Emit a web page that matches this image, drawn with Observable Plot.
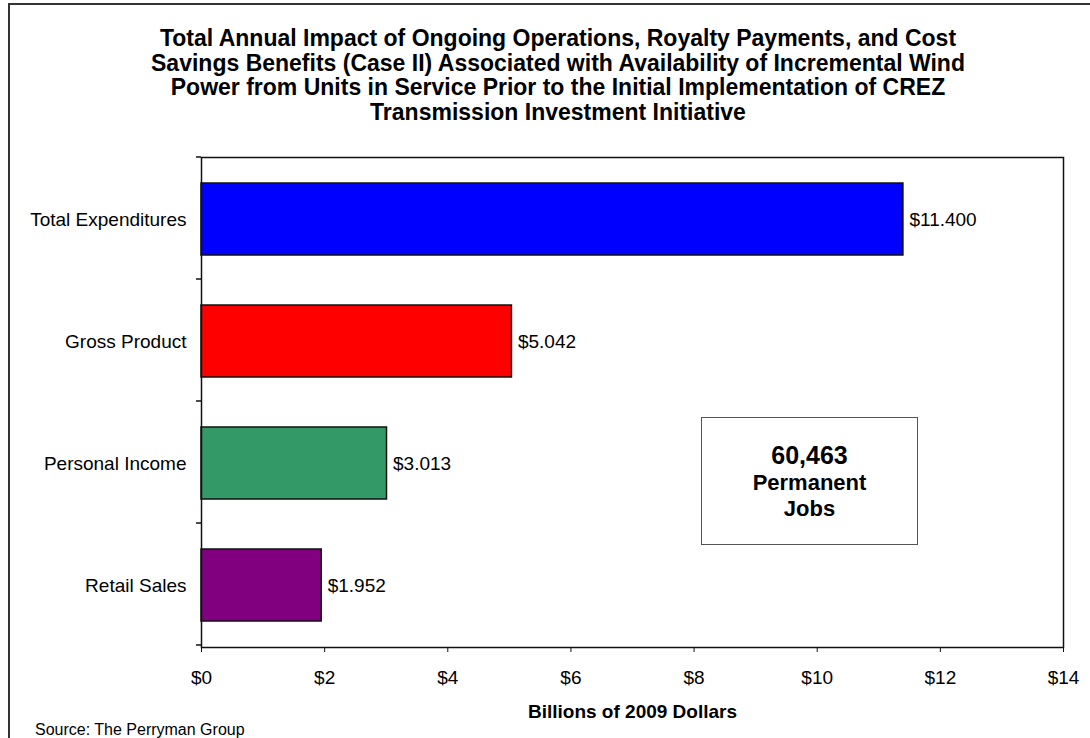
<!DOCTYPE html>
<html><head><meta charset="utf-8">
<script src="https://cdn.jsdelivr.net/npm/d3@7"></script>
<script src="https://cdn.jsdelivr.net/npm/@observablehq/plot@0.6"></script>
<style>
body{margin:0;background:#fff;font-family:Arial,"Liberation Sans",sans-serif;color:#000;}
#wrap{position:relative;width:1090px;height:738px;overflow:hidden;background:#fff;}
#border{position:absolute;left:8px;top:3px;width:1200px;height:900px;border:2px solid #333;box-sizing:border-box;pointer-events:none;}
#title{position:absolute;left:0;top:26px;width:1116px;text-align:center;font-weight:bold;font-size:23px;line-height:24.5px;}
#chart{position:absolute;left:0;top:130px;}
#source{position:absolute;left:35px;top:720px;font-size:16px;line-height:20px;}
#box{position:absolute;left:701px;top:417px;width:217px;height:128px;border:1.5px solid #555;box-sizing:border-box;text-align:center;font-weight:bold;padding-top:22px;}
#box .big{font-size:25px;line-height:30px;}
#box .small{font-size:22px;line-height:26px;}
</style></head>
<body>
<div id="wrap">
  <div id="title">Total Annual Impact of Ongoing Operations, Royalty Payments, and Cost<br>Savings Benefits (Case II) Associated with Availability of Incremental Wind<br>Power from Units in Service Prior to the Initial Implementation of CREZ<br>Transmission Investment Initiative</div>
  <div id="chart"></div>
  <div id="box"><div class="big">60,463</div><div class="small">Permanent</div><div class="small">Jobs</div></div>
  <div id="source">Source: The Perryman Group</div>
  <div id="border"></div>
</div>
<script>
const categories = ["Total Expenditures", "Gross Product", "Personal Income", "Retail Sales"];
const values = [11.400, 5.042, 3.013, 1.952];
const colors = ["#0000FF", "#FF0000", "#339966", "#800080"];
const xTicks = [0, 2, 4, 6, 8, 10, 12, 14];
const xLabel = "Billions of 2009 Dollars";

const data = categories.map((c, i) => ({category: c, value: values[i]}));

function bandTicks(index, scales, vals, dims) {
  const y = scales.y;
  const step = y(categories[1]) - y(categories[0]);
  const g = d3.create("svg:g");
  for (let k = 0; k <= categories.length; k++) {
    const yy = dims.marginTop + k * step;
    g.append("line")
      .attr("x1", dims.marginLeft - 5).attr("x2", dims.marginLeft)
      .attr("y1", yy).attr("y2", yy)
      .attr("stroke", "#111").attr("stroke-width", 1.5);
  }
  return g.node();
}

const chart = Plot.plot({
  width: 1090,
  height: 598,
  marginLeft: 201,
  marginRight: 27,
  marginTop: 27,
  marginBottom: 81,
  style: {fontFamily: "Arial, 'Liberation Sans', sans-serif", fontSize: "19px", color: "#000", background: "transparent"},
  x: {domain: [0, 14]},
  y: {domain: categories, paddingInner: 0.41, paddingOuter: 0.205},
  color: {domain: categories, range: colors},
  marks: [
    Plot.barX(data, {x: "value", y: "category", fill: "category", stroke: "#111", strokeWidth: 1.5}),
    Plot.text(data, {x: "value", y: "category", text: d => "$" + d3.format(".3f")(d.value), textAnchor: "start", dx: 6, fontSize: 19, fill: "#000"}),
    Plot.frame({stroke: "#111", strokeWidth: 1.5}),
    Plot.axisX({ticks: xTicks, tickFormat: d => "$" + d, tickSize: 5, tickPadding: 18, fontSize: 19, label: null, stroke: "#111"}),
    Plot.axisY({tickSize: 0, tickPadding: 15, fontSize: 19, label: null}),
    bandTicks,
    Plot.text([xLabel], {frameAnchor: "bottom", dy: 64, lineAnchor: "middle", fontWeight: "bold", fontSize: 19, fill: "#000"})
  ]
});
document.getElementById("chart").appendChild(chart);
</script>
</body></html>
